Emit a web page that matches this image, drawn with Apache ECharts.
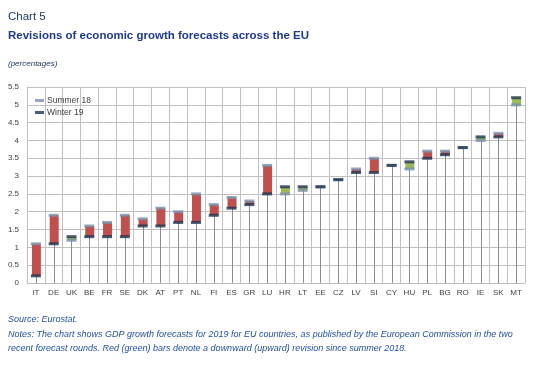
<!DOCTYPE html>
<html>
<head>
<meta charset="utf-8">
<script src="https://cdn.jsdelivr.net/npm/echarts@6/dist/echarts.min.js"></script>
<style>html,body{margin:0;padding:0;background:#fff;}#c{width:544px;height:365px;}</style>
</head>
<body>
<div id="c"></div>
<script>
var countries = ['IT','DE','UK','BE','FR','SE','DK','AT','PT','NL','FI','ES','GR','LU','HR','LT','EE','CZ','LV','SI','CY','HU','PL','BG','RO','IE','SK','MT'];
var summer18 = [1.1,1.9,1.2,1.6,1.7,1.9,1.8,2.1,2.0,2.5,2.2,2.4,2.3,3.3,2.5,2.6,2.7,2.9,3.2,3.5,3.3,3.2,3.7,3.7,3.8,4.0,4.2,5.0];
var winter19 = [0.2,1.1,1.3,1.3,1.3,1.3,1.6,1.6,1.7,1.7,1.9,2.1,2.2,2.5,2.7,2.7,2.7,2.9,3.1,3.1,3.3,3.4,3.5,3.6,3.8,4.1,4.1,5.2];
var yTicks = [0,0.5,1,1.5,2,2.5,3,3.5,4,4.5,5,5.5];

var pairData = countries.map(function(c,i){return [i, summer18[i], winter19[i]];});
var font = 'Liberation Sans, Arial, sans-serif';
var chart = echarts.init(document.getElementById('c'));
chart.setOption({
  animation:false,
  backgroundColor:'#fff',
  grid:{left:27,right:19,top:87,bottom:82},
  legend:{
    data:['Summer 18','Winter 19'],orient:'vertical',left:30,top:91,
    icon:'rect',itemWidth:9,itemHeight:3,itemGap:3,
    textStyle:{fontFamily:font,fontSize:8.5,color:'#404040',padding:[0,0,0,-2]}
  },
  xAxis:{
    type:'category',data:countries,boundaryGap:true,
    axisLine:{lineStyle:{color:'#bdbdbd'}},
    axisTick:{show:false},
    splitLine:{show:true,interval:0,lineStyle:{color:'#c0c0c0',width:1}},
    axisLabel:{interval:0,fontFamily:font,fontSize:8,color:'#404040',margin:6}
  },
  yAxis:{
    type:'value',min:yTicks[0],max:yTicks[yTicks.length-1],interval:0.5,
    axisLine:{show:true,lineStyle:{color:'#bdbdbd'}},
    axisTick:{show:false},
    splitLine:{lineStyle:{color:'#c0c0c0',width:1}},
    axisLabel:{fontFamily:font,fontSize:8,color:'#404040',margin:8,
      formatter:function(v){return String(v);}}
  },
  series:[
    {
      type:'custom',name:'drop',z:1,
      data:pairData,
      renderItem:function(params,api){
        var i=api.value(0), top=Math.max(api.value(1),api.value(2));
        var p1=api.coord([i,top]), p0=api.coord([i,0]);
        return {type:'line',shape:{x1:Math.round(p0[0])+0.5,y1:p0[1],x2:Math.round(p1[0])+0.5,y2:p1[1]},style:{stroke:'#8c8c8c',lineWidth:1}};
      }
    },
    {
      type:'custom',name:'bars',z:2,
      data:pairData,
      renderItem:function(params,api){
        var i=api.value(0), s=api.value(1), w=api.value(2);
        var a=api.coord([i,s]), b=api.coord([i,w]);
        var bw=9;
        var y0=Math.min(a[1],b[1]), h=Math.abs(a[1]-b[1]);
        return {type:'rect',shape:{x:a[0]-bw/2+0.5,y:y0,width:bw,height:h},
          style:{fill: w<s ? '#c0504d' : '#9bbb59'}};
      }
    },
    {
      type:'scatter',name:'Summer 18',z:3,symbol:'rect',symbolSize:[10,3],
      data:summer18,itemStyle:{color:'#7891ad'}
    },
    {
      type:'scatter',name:'Winter 19',z:4,symbol:'rect',symbolSize:[10,3],
      data:winter19,itemStyle:{color:'#1f3550'}
    }
  ],
  graphic:[
    {type:'text',left:8,top:11,style:{text:'Chart 5',font:'11.5px '+font,fill:'#1f3864'}},
    {type:'text',left:8,top:30,style:{text:'Revisions of economic growth forecasts across the EU',font:'bold 11.5px '+font,fill:'#1f3a8c'}},
    {type:'text',left:8,top:60,style:{text:'(percentages)',font:'italic 8px '+font,fill:'#1f3864'}},
    {type:'text',left:8,top:315,style:{text:'Source: Eurostat.',font:'italic 9px '+font,fill:'#1f4e9c'}},
    {type:'text',left:8,top:330,style:{text:'Notes: The chart shows GDP growth forecasts for 2019 for EU countries, as published by the European Commission in the two',font:'italic 9px '+font,fill:'#1f4e9c'}},
    {type:'text',left:8,top:344,style:{text:'recent forecast rounds. Red (green) bars denote a downward (upward) revision since summer 2018.',font:'italic 9px '+font,fill:'#1f4e9c'}}
  ]
});
</script>
</body>
</html>
